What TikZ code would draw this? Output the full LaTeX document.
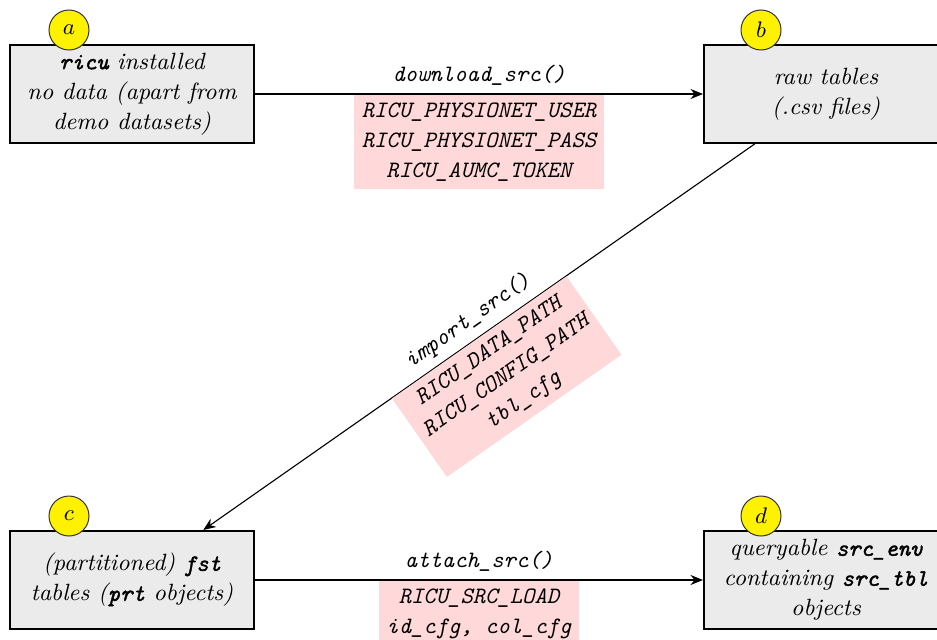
\documentclass[tikz,border=0pt]{standalone}
\usepackage{fontspec}
\usetikzlibrary{arrows.meta}
\newfontfamily\boldttfont{lmmono10-italic.otf}[FakeBold=1.6]
\newcommand\boldtt[1]{{\boldttfont #1}}
\tikzset{
  stage/.style={draw, line width=0.8pt, fill=black!8, minimum width=97.6pt,
    minimum height=39.2pt, align=center, inner sep=2pt, font=\itshape},
  tag/.style={circle, draw=black!80, line width=0.4pt, fill=yellow,
    minimum size=16pt, inner sep=0pt},
  envbox/.style={fill=red!15, align=center, font=\ttfamily\itshape},
  fnlabel/.style={font=\ttfamily\itshape},
  flow/.style={line width=0.45pt},
  tip/.tip={Stealth[length=5pt,width=4pt]}
}
\begin{document}
\fontsize{9.4}{12}\selectfont
\begin{tikzpicture}[x=0.4pt, y=-0.4pt]
\clip (0,0) rectangle (937,639);
\node[stage] (a) at (132,94) {\boldtt{ricu} installed\\no data (apart from\\demo datasets)};
\node[stage] (b) at (826,94) {raw tables\\(.csv files)};
\node[stage] (c) at (132,580) {(partitioned) \boldtt{fst}\\tables (\boldtt{prt} objects)};
\node[stage] (d) at (826,580) {queryable \boldtt{src\_env}\\containing \boldtt{src\_tbl}\\objects};
\node[tag] (ta) at (69,30) {$a$};
\node[tag] (tb) at (761,30) {$b$};
\node[tag] (tc) at (69,516) {$c$};
\node[tag] (td) at (761,516) {$d$};
\draw[flow, -tip] (a) -- (b)
  node[midway, above, fnlabel] (la) {download\_src()}
  node[midway, below, envbox] (ea) {RICU\_PHYSIONET\_USER\\RICU\_PHYSIONET\_PASS\\RICU\_AUMC\_TOKEN};
\draw[flow, tip-] (c) -- (b)
  node[midway, sloped, above, fnlabel] (lb) {import\_src()}
  node[midway, sloped, below, envbox] (eb) {RICU\_DATA\_PATH\\RICU\_CONFIG\_PATH\\tbl\_cfg};
\draw[flow, -tip] (c) -- (d)
  node[midway, above, fnlabel] (lc) {attach\_src()}
  node[midway, below, envbox] (ec) {RICU\_SRC\_LOAD\\id\_cfg, col\_cfg};
\end{tikzpicture}
\end{document}
